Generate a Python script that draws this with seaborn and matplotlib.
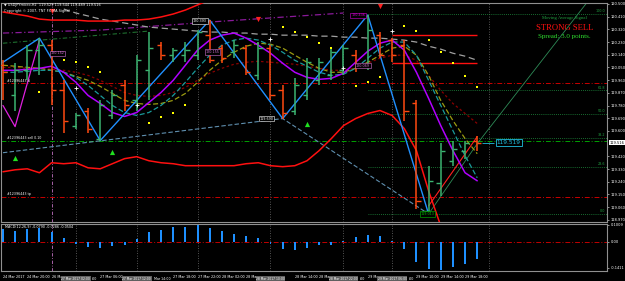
import numpy as np
import pandas as pd
import seaborn as sns
import matplotlib.pyplot as plt
import matplotlib.transforms as mtransforms

sns.set_style("dark")
plt.rcParams['font.family'] = ['DejaVu Sans']

# USDJPY H2 bars (24 Mar 16:00 -> 29 Mar 18:00)
opens = [120.066, 119.852, 120.030, 120.173, 120.208, 119.888, 119.638, 119.745, 119.546, 119.710,
         119.923, 119.817, 120.030, 120.208, 120.137, 120.137, 120.137, 120.279, 120.187, 120.158,
         120.187, 119.994, 120.187, 119.888, 119.745, 119.852, 119.959, 119.994, 120.030, 120.137,
         120.066, 120.279, 120.244, 120.208, 119.795, 119.034, 119.233, 119.389, 119.461, 119.532]
highs = [120.101, 120.080, 120.208, 120.258, 120.244, 119.959, 119.731, 119.760, 119.817, 119.888,
         119.959, 120.137, 120.301, 120.230, 120.187, 120.230, 120.315, 120.386, 120.208, 120.244,
         120.208, 120.230, 120.208, 119.923, 119.973, 120.116, 120.116, 120.187, 120.208, 120.173,
         120.422, 120.301, 120.258, 120.244, 119.817, 119.354, 119.518, 119.532, 119.532, 119.567]
lows = [119.817, 119.745, 119.959, 119.994, 119.781, 119.589, 119.617, 119.589, 119.532, 119.688,
        119.745, 119.745, 119.817, 120.101, 120.087, 120.087, 120.101, 120.080, 120.080, 120.116,
        119.994, 119.959, 119.817, 119.688, 119.710, 119.817, 119.923, 119.959, 119.994, 120.016,
        120.030, 120.116, 120.087, 119.674, 119.048, 119.012, 119.140, 119.354, 119.404, 119.461]
closes = [120.016, 120.030, 120.173, 120.208, 119.888, 119.674, 119.710, 119.617, 119.781, 119.852,
          119.781, 120.101, 120.187, 120.137, 120.173, 120.173, 120.301, 120.101, 120.116, 120.208,
          120.016, 120.187, 119.852, 119.731, 119.923, 120.087, 120.087, 120.158, 120.187, 120.066,
          120.315, 120.137, 120.137, 119.745, 119.105, 119.247, 119.461, 119.475, 119.518, 119.516]

ma_purple = [120.030, 120.030, 120.037, 120.044, 120.059, 120.016, 119.945, 119.852, 119.795, 119.731,
             119.703, 119.731, 119.802, 119.873, 119.959, 120.066, 120.173, 120.244, 120.279, 120.294,
             120.258, 120.208, 120.151, 120.080, 120.016, 119.980, 119.966, 119.973, 120.009, 120.087,
             120.165, 120.222, 120.244, 120.173, 120.016, 119.831, 119.638, 119.461, 119.304, 119.247]
ma_teal = [120.016, 120.016, 120.023, 120.030, 120.030, 120.016, 119.980, 119.923, 119.852, 119.781,
           119.731, 119.710, 119.731, 119.781, 119.852, 119.945, 120.044, 120.137, 120.208, 120.244,
           120.258, 120.244, 120.208, 120.158, 120.101, 120.059, 120.016, 119.994, 120.002, 120.044,
           120.116, 120.187, 120.230, 120.230, 120.137, 119.959, 119.781, 119.603, 119.425, 119.268]
ma_olive = [120.066, 120.059, 120.051, 120.044, 120.030, 120.016, 119.987, 119.959, 119.916, 119.866,
            119.817, 119.795, 119.788, 119.795, 119.817, 119.866, 119.945, 120.030, 120.101, 120.158,
            120.201, 120.222, 120.215, 120.187, 120.137, 120.087, 120.044, 120.016, 120.016, 120.044,
            120.087, 120.137, 120.187, 120.201, 120.137, 119.994, 119.817, 119.674, 119.546, 119.439]
ma_darkred = [120.051, 120.051, 120.044, 120.044, 120.037, 120.030, 120.016, 119.994, 119.959, 119.916,
              119.873, 119.852, 119.845, 119.852, 119.873, 119.909, 119.959, 120.009, 120.044, 120.073,
              120.087, 120.094, 120.087, 120.080, 120.073, 120.059, 120.044, 120.030, 120.030, 120.044,
              120.080, 120.116, 120.137, 120.137, 120.101, 119.994, 119.888, 119.795, 119.724, 119.653]
ma_gray = [120.464, 120.436, 120.415, 120.393, 120.379, 120.365, 120.351, 120.336, 120.329, 120.322,
           120.315, 120.308, 120.301, 120.301, 120.294, 120.294, 120.286, 120.286, 120.279, 120.279,
           120.279, 120.272, 120.272, 120.265, 120.265, 120.258, 120.258, 120.251, 120.244, 120.230,
           120.201, 120.180, 120.151, 120.130, 120.101]  # from bar 5
band_upper = [120.443, 120.429, 120.415, 120.393, 120.386, 120.386, 120.386, 120.379, 120.379, 120.379,
              120.386, 120.386, 120.393, 120.408, 120.429, 120.457, 120.493, 120.530]  # bars 0-17
band_lower = [119.311, 119.325, 119.332, 119.304, 119.375, 119.368, 119.375, 119.339, 119.332, 119.368,
              119.404, 119.418, 119.389, 119.375, 119.368, 119.354, 119.354, 119.354, 119.354, 119.354,
              119.368, 119.375, 119.354, 119.347, 119.354, 119.389, 119.461, 119.546, 119.638, 119.688,
              119.724, 119.745, 119.710, 119.617, 119.461, 119.176, 118.927]  # bars 0-36
env_purple_bars = [0, 8, 17, 28]
env_purple = [120.294, 120.315, 120.372, 120.436]
env_green_bars = [0, 12]
env_green = [120.222, 120.308]

sar_bars = [3, 5, 6, 7, 8, 12, 13, 14, 15, 23, 24, 25, 26, 27, 29, 30, 31, 33, 34, 35, 36, 37, 38, 39]
sar = [119.873, 120.101, 120.087, 120.051, 120.016, 119.660, 119.696, 119.731, 119.781, 120.336,
       120.301, 120.265, 120.222, 120.187, 119.916, 119.945, 119.980, 120.343, 120.308, 120.244,
       120.158, 120.080, 119.987, 119.909]

zz_bars = [0, 3, 8, 17, 23, 30, 35]
zz = [120.087, 120.258, 119.532, 120.386, 119.688, 120.422, 119.012]
zz2_bars = [0, 1, 3]
zz2 = [119.781, 119.631, 120.244]
trend_bars = [0, 23, 35]
trend = [119.446, 119.688, 119.012]
green_trend_bars = [35, 39, 48]
green_trend = [119.012, 119.510, 120.508]
red_rise_bars = [35, 39]
red_rise = [119.069, 119.560]

fib_low, fib_high, fib_start = 119.012, 120.430, 30
fib_levels = [0.0, 23.6, 38.2, 50.0, 61.8, 100.0]

orders = [(119.938, "#12396443 sl", "#c80000"),
          (119.532, "#12396443 sell 0.10", "#00a000"),
          (119.133, "#12396443 tp", "#c80000")]

up_arrow_bars = [1, 9, 25]
up_arrow = [119.411, 119.454, 119.653]
down_arrow_bars = [4, 21, 31]
down_arrow = [120.450, 120.393, 120.486]
cross_bars = [6, 11, 22, 28, 32]
cross = [119.902, 119.781, 120.251, 120.044, 120.308]

zz_labels = [(4.5, 120.151, "120.152", "#d070d0"), (16.2, 120.380, "120.393", "white"),
             (17.2, 120.160, "120.155", "#d070d0"), (29.2, 120.420, "120.436", "#d000d0"),
             (29.6, 120.062, "120.069", "#d070d0"), (21.7, 119.688, "119.690", "white"),
             (34.9, 119.012, "119.013", "#00c000")]

macd = [0.066, 0.057, 0.066, 0.070, 0.052, 0.017, -0.012, -0.030, -0.035, -0.024,
        -0.017, 0.014, 0.049, 0.063, 0.078, 0.078, 0.089, 0.072, 0.054, 0.042,
        0.031, 0.021, -0.012, -0.038, -0.045, -0.035, -0.021, -0.017, 0.005, 0.026,
        0.037, 0.028, 0.001, -0.038, -0.108, -0.146, -0.152, -0.139, -0.119, -0.094]

separators = [4, 6, 11, 16, 22, 28, 32, 40]
sep_labels = {6: "27 Mar 2017 02:00", 11: "27 Mar 2017 12:00", 22: "28 Mar 2017 10:00",
              28: "28 Mar 2017 22:00", 32: "29 Mar 2017 06:00"}
time_ticks = [0, 2, 4, 8, 14, 16, 18, 20, 24, 26, 30, 34, 36, 38]
time_labels = ["24 Mar 2017", "24 Mar 20:00", "26 Ma", "27 Mar 06:00", "27 Mar 18:00",
               "27 Mar 22:00", "28 Mar 02:00", "28 Ma", "28 Mar 14:00", "28 Ma",
               "29 Ma", "29 Mar 10:00", "29 Mar 14:00", "29 Mar 18:00"]
# label tails left visible beside the grey separator boxes
tail_pos = [7.3, 12.4, 29.3, 33.35]
tail_text = [":00", "Mar 14:00", ":00", ":00"]
price_ticks = [120.500, 120.410, 120.320, 120.230, 120.140, 120.050, 119.960, 119.870, 119.780,
               119.690, 119.600, 119.420, 119.330, 119.240, 119.150, 119.060, 118.970]
last_price = 119.516

n = len(closes)
bars = np.arange(n)
df = pd.DataFrame({"bar": bars, "purple": ma_purple, "teal": ma_teal,
                   "olive": ma_olive, "darkred": ma_darkred, "macd": macd})

fig = plt.figure(figsize=(6.25, 2.81), dpi=100, facecolor="black")
ax = fig.add_axes([1 / 625, 1 - 222 / 281, 606 / 625, 219 / 281])
ax2 = fig.add_axes([1 / 625, 1 - 271 / 281, 606 / 625, 47 / 281])
xlim = (-0.16, 49.67)
for a in (ax, ax2):
    a.set_facecolor("black")
    a.set_xlim(*xlim)
    for s in a.spines.values():
        s.set_color("#909090")
        s.set_linewidth(0.8)
    a.grid(False)
ax.set_ylim(118.955, 120.507)
ax2.set_ylim(-0.158, 0.094)

# separators
for b in separators:
    c, ls = ("#c070c0", (0, (4, 2, 1, 2))) if b == 4 else ("#707070", (0, (1, 2)))
    ax.axvline(b, color=c, lw=0.6, ls=ls, zorder=1)
    ax2.axvline(b, color=c, lw=0.6, ls=ls, zorder=1)

# order lines
for price, txt, col in orders:
    ax.axhline(price, color=col, lw=0.7, ls=(0, (5, 2, 1, 2)), zorder=1)
    ax.text(0.3, price + 0.004, txt, color="white", fontsize=2.3, va="bottom", zorder=6)

# fibonacci
for lv in fib_levels:
    p = fib_low + (fib_high - fib_low) * lv / 100
    ax.hlines(p, fib_start, xlim[1], color="#1f8f3f", lw=0.6, ls=(0, (1, 1.5)), zorder=1)
    ax.text(xlim[1] - 0.15, p + 0.004, f"{lv:.1f}", color="#20a040", fontsize=2.4,
            ha="right", va="bottom", zorder=6)

# envelopes / bands / long MA
ax.plot(env_purple_bars, env_purple, color="#8a1a9a", lw=0.9, ls=(0, (5, 2, 1, 2)), zorder=2)
ax.plot(env_green_bars, env_green, color="#1f6f2f", lw=0.8, ls=(0, (4, 2, 1, 2)), zorder=2)
ax.plot(bars[5:], ma_gray, color="#a0a0a0", lw=0.9, ls=(0, (5, 3)), zorder=2)
ax.plot(bars[:len(band_upper)], band_upper, color="#ff1010", lw=1.1, zorder=3)
ax.plot(bars[:len(band_lower)], band_lower, color="#ff1010", lw=1.1, zorder=3)
ax.hlines([120.279, 120.080], 32, 39, color="#ff1010", lw=1.0, zorder=3)
ax.plot(trend_bars, trend, color="#5f8faf", lw=0.8, ls=(0, (4, 2)), zorder=2)
ax.plot(green_trend_bars, green_trend, color="#2e8b57", lw=0.6, zorder=2)
ax.plot(red_rise_bars, red_rise, color="#ff2020", lw=0.8, zorder=3)

# moving averages
sns.lineplot(data=df, x="bar", y="darkred", ax=ax, color="#8b0000", lw=0.9, ls=(0, (2, 2)), zorder=3)
sns.lineplot(data=df, x="bar", y="olive", ax=ax, color="#9a9a10", lw=0.9, ls=(0, (4, 2)), zorder=3)
sns.lineplot(data=df, x="bar", y="teal", ax=ax, color="#1a9a9a", lw=0.9, ls=(0, (4, 2)), zorder=3)
sns.lineplot(data=df, x="bar", y="purple", ax=ax, color="#b000ff", lw=1.1, zorder=4)

# zigzags
ax.plot(zz_bars, zz, color="#2090ff", lw=1.0, zorder=4)
ax.plot(zz2_bars, zz2, color="#e020e0", lw=0.9, zorder=4)

# OHLC bars
cols = ["#3cb371" if c >= o else "#ff4a10" for o, c in zip(opens, closes)]
ax.vlines(bars, lows, highs, colors=cols, lw=1.1, zorder=5)
ax.hlines(opens, bars - 0.35, bars, colors=cols, lw=1.0, zorder=5)
ax.hlines(closes, bars, bars + 0.35, colors=cols, lw=1.0, zorder=5)

# markers
ax.scatter(sar_bars, sar, s=2.5, color="#ffff00", marker="s", lw=0, zorder=6)
ax.scatter(up_arrow_bars, up_arrow, s=14, color="#20e020", marker="^", lw=0, zorder=6)
ax.scatter(down_arrow_bars, down_arrow, s=14, color="#ff2020", marker="v", lw=0, zorder=6)
ax.scatter(cross_bars, cross, s=8, color="white", marker="+", lw=0.6, zorder=6)

for b, p, t, c in zz_labels:
    ax.text(b, p, t, color=c, fontsize=2.4, ha="center", va="center", zorder=7,
            bbox=dict(boxstyle="square,pad=0.2", fc="black", ec=c, lw=0.4))
ax.text(40.6, last_price, "119.519", color="#20c0e0", fontsize=4.2, va="center", zorder=7,
        bbox=dict(boxstyle="square,pad=0.15", fc="black", ec="#20c0e0", lw=0.6))
ax.hlines(last_price, 39.4, 40.4, color="#20c0e0", lw=0.6)

# signal texts
ax.text(46.2, 120.400, "Moving Average Signal", color="#20a040", fontsize=3.4,
        family="Liberation Serif", ha="center", va="center", zorder=7)
ax.text(46.2, 120.329, "STRONG SELL", color="#ff1010", fontsize=6.2,
        family="Liberation Serif", ha="center", va="center", zorder=7)
ax.text(46.2, 120.268, "Spread: 3.0 points.", color="#30e030", fontsize=5.0,
        family="Liberation Serif", ha="center", va="center", zorder=7)

fig.text(4 / 625, 1 - 6 / 281, "\u25bc USDJPYmicro,H2  119.529 119.544 119.489 119.516",
         color="white", fontsize=2.5)
fig.text(4 / 625, 1 - 12 / 281, "Copyright \u00a9 2007, TNT FX MA Signal",
         color="white", fontsize=2.5)

# price axis
ax.yaxis.tick_right()
ax.set_yticks(price_ticks)
ax.set_yticklabels([f"{p:.3f}" for p in price_ticks])
ax.tick_params(axis="y", colors="white", labelsize=2.6, length=1.5, width=0.4, pad=1)
ax.tick_params(axis="x", bottom=False, labelbottom=False)
trans = mtransforms.blended_transform_factory(ax.transAxes, ax.transData)
ax.text(1.004, last_price, f"{last_price:.3f}", transform=trans, color="black", fontsize=2.6,
        va="center", bbox=dict(boxstyle="square,pad=0.15", fc="white", ec="none"), zorder=8)
ax.set_xlabel("")
ax.set_ylabel("")

# MACD
ax2.bar(df["bar"], df["macd"], width=0.16, color="#1e90ff", lw=0, zorder=3)
ax2.axhline(0, color="#c00000", lw=0.7, ls=(0, (5, 2, 1, 2)), zorder=2)
ax2.text(0.2, 0.07, "MACD(12,26,9) -0.0790 -0.0286 -0.0504", color="white", fontsize=2.4, zorder=6)
ax2.yaxis.tick_right()
ax2.set_yticks([0.0909, 0.0, -0.1411])
ax2.set_yticklabels(["0.1009", "0.00", "-0.1411"])
ax2.tick_params(axis="y", colors="white", labelsize=2.6, length=1.5, width=0.4, pad=1)
ax2.set_xticks(time_ticks)
ax2.set_xticklabels(time_labels, ha="left")
ax2.tick_params(axis="x", colors="white", labelsize=2.4, length=1.5, width=0.4, pad=1.5)
for b, t in sep_labels.items():
    ax2.text(b, -0.2, t, color="white", fontsize=2.2, ha="center", va="center", zorder=9,
             clip_on=False, bbox=dict(boxstyle="square,pad=0.15", fc="#606060", ec="none"))
for b, t in zip(tail_pos, tail_text):
    ax2.text(b, -0.2, t, color="white", fontsize=2.3, ha="left", va="center", clip_on=False)
ax2.set_xlabel("")
ax2.set_ylabel("")

fig.savefig("out.png", dpi=100, facecolor="black")
